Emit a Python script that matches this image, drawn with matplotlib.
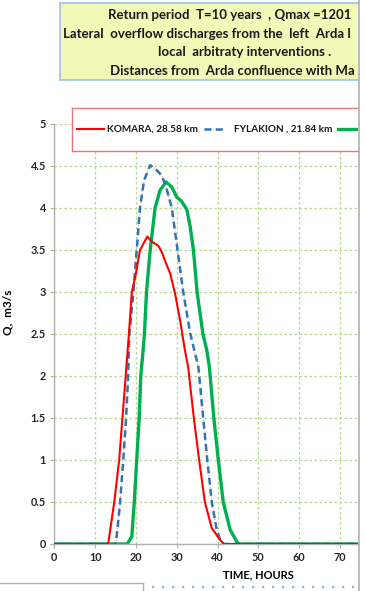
import matplotlib
matplotlib.use("Agg")
import matplotlib.pyplot as plt
from matplotlib.lines import Line2D

# ---- data ----
t_komara = [0, 13.2, 14.7, 15.9, 16.7, 17.5, 18.3, 19.0, 20.0, 21.0, 22.8, 23.9, 25.5, 26.3,
            27.4, 28.4, 29.6, 30.8, 32.0, 32.8, 34.2, 35.5, 36.9, 38.6, 40.6, 41.6, 100]
q_komara = [0, 0, 0.5, 1.0, 1.5, 2.0, 2.51, 3.0, 3.22, 3.5, 3.66, 3.60, 3.55, 3.48,
            3.34, 3.22, 2.98, 2.67, 2.31, 2.11, 1.5, 1.0, 0.5, 0.19, 0.05, 0, 0]

t_fylakion = [0, 15.1, 16.1, 16.9, 17.6, 18.1, 18.4, 19.4, 20.2, 21.0, 22.0, 23.5, 25.1, 26.3,
              27.4, 28.8, 30.2, 31.6, 33.3, 33.9, 35.3, 36.5, 37.5, 38.6, 39.8, 40.8, 41.5, 100]
q_fylakion = [0, 0, 0.48, 1.0, 1.5, 2.0, 2.51, 3.0, 3.5, 4.0, 4.33, 4.51, 4.45, 4.39,
              4.25, 4.0, 3.5, 3.0, 2.51, 2.39, 2.11, 1.5, 1.0, 0.5, 0.17, 0.03, 0, 0]

t_green = [0, 17.9, 19.0, 19.6, 20.2, 20.8, 21.2, 21.7, 22.1, 22.6, 23.5, 24.7, 25.9, 27.4,
           28.8, 30.0, 31.2, 32.5, 33.3, 34.1, 35.0, 36.4, 37.4, 38.0, 39.1, 40.2, 41.4,
           43.1, 44.7, 45.3, 100]
q_green = [0, 0, 0.09, 0.5, 1.0, 1.5, 2.0, 2.27, 2.51, 3.0, 3.5, 4.0, 4.21, 4.31,
           4.25, 4.13, 4.08, 3.98, 3.78, 3.5, 3.0, 2.51, 2.3, 2.11, 1.5, 1.0, 0.5,
           0.17, 0.03, 0, 0]

x_ticks = [0, 10, 20, 30, 40, 50, 60, 70]
y_ticks = [0, 0.5, 1, 1.5, 2, 2.5, 3, 3.5, 4, 4.5, 5]
y_tick_labels = ["0", "0.5", "1", "1.5", "2", "2.5", "3", "3.5", "4", "4.5", "5"]

# only the part of each line that is visible in the cropped picture
title_lines = ["Return period  T=10 years  , Qmax =1201",
               "Lateral  overflow discharges from the  left  Arda l",
               "local  arbitraty interventions .",
               "Distances from  Arda confluence with Ma"]
legend_labels = ["KOMARA, 28.58 km", "FYLAKION , 21.84 km"]

W, H = 365, 591
plt.rcParams["font.family"] = ["Lato", "DejaVu Sans"]


def fx(px):
    return px / W


def fy(py):
    return 1 - py / H


fig = plt.figure(figsize=(W / 100, H / 100), dpi=100)

# ---- main axes ----
ax = fig.add_axes([fx(54.3), fy(544), fx(358 - 54.3), (544 - 124) / H])
blue_dash = (2.8, 1.7)
ax.plot(t_fylakion, q_fylakion, ":", color="#f0a070", lw=0.8, zorder=3)
ax.plot(t_fylakion, q_fylakion, color="#2e75b6", lw=1.8, dashes=blue_dash, zorder=4)
ax.plot(t_komara, q_komara, color="#ff0000", lw=1.5, zorder=5)
ax.plot(t_green, q_green, color="#00b050", lw=2.4, zorder=2)

ax.set_xlim(0, (358 - 54.3) / 4.08)
ax.set_ylim(0, 5)
ax.set_xticks(x_ticks)
ax.set_yticks(y_ticks)
ax.set_xticklabels([str(v) for v in x_ticks])
ax.set_yticklabels(y_tick_labels)
ax.grid(True, color="#b5d98a", ls=(0, (2, 2)), lw=0.9)
ax.set_axisbelow(True)
for s in ["top", "right"]:
    ax.spines[s].set_visible(False)
for s in ["left", "bottom"]:
    ax.spines[s].set_color("#b0b0b0")
    ax.spines[s].set_linewidth(1.0)
ax.tick_params(direction="out", length=3, color="#b0b0b0", labelsize=7.8, pad=3,
               labelcolor="#262626")
for lab in ax.get_xticklabels() + ax.get_yticklabels():
    lab.set_fontweight("bold")
ax.set_ylabel("Q,  m3/s", fontsize=8.5, fontweight="bold")
ax.yaxis.set_label_coords((13 - 54.3) / (358 - 54.3), (544 - 312) / 420)
ax.set_xlabel("TIME, HOURS", fontsize=8, fontweight="bold")
ax.xaxis.set_label_coords((258 - 54.3) / (358 - 54.3), -0.06)

# ---- title box (cut at the right edge) ----
tax = fig.add_axes([fx(60), fy(80), fx(358 - 60), (80 - 3) / H])
tax.set_xlim(60, 358)
tax.set_ylim(80, 3)
tax.set_facecolor("#f2f8b6")
for s in tax.spines.values():
    s.set_color("#9dc3e6")
    s.set_linewidth(1.2)
tax.spines["right"].set_visible(False)
tax.set_xticks([])
tax.set_yticks([])
for txt, x0, y0 in zip(title_lines, [108, 63, 158, 110], [15, 34, 52, 71]):
    tax.text(x0, y0, txt, fontsize=9.5, fontweight="bold", ha="left", va="center",
             color="#1a1a1a")

# ---- legend box (cut at the right edge) ----
lax = fig.add_axes([fx(72), fy(151), fx(358 - 72), (151 - 108) / H])
lax.set_xlim(72, 358)
lax.set_ylim(151, 108)
lax.patch.set_facecolor("white")
for s in lax.spines.values():
    s.set_color("#e07878")
    s.set_linewidth(1.0)
lax.spines["right"].set_visible(False)
lax.set_xticks([])
lax.set_yticks([])
ly = 129
lax.plot([77, 104], [ly, ly], color="#ff0000", lw=1.5)
lax.plot([204, 223], [ly, ly], ":", color="#f0a070", lw=0.8)
lax.plot([204, 223], [ly, ly], color="#2e75b6", lw=1.8, dashes=blue_dash)
lax.plot([338, 362], [ly, ly], color="#00b050", lw=2.4)
for lab, x0 in zip(legend_labels, [107, 234]):
    lax.text(x0, ly, lab, fontsize=7.2, fontweight="bold", va="center", color="#1a1a1a")

# ---- frame bits of the cropped sheet ----
fig.add_artist(Line2D([fx(359), fx(359)], [0, 1], color="#b0b0b0", lw=1.2))
fig.add_artist(Line2D([0, fx(143)], [fy(583), fy(583)], color="#b0b0b0", lw=1.0))
fig.add_artist(Line2D([fx(143), fx(143)], [fy(583), 0], color="#b0b0b0", lw=1.0))
fig.add_artist(Line2D([fx(152), fx(358)], [fy(587), fy(587)], color="#8fb4de",
                      lw=1.6, ls=(0, (1, 3.5))))

fig.savefig("out.png", dpi=100)
